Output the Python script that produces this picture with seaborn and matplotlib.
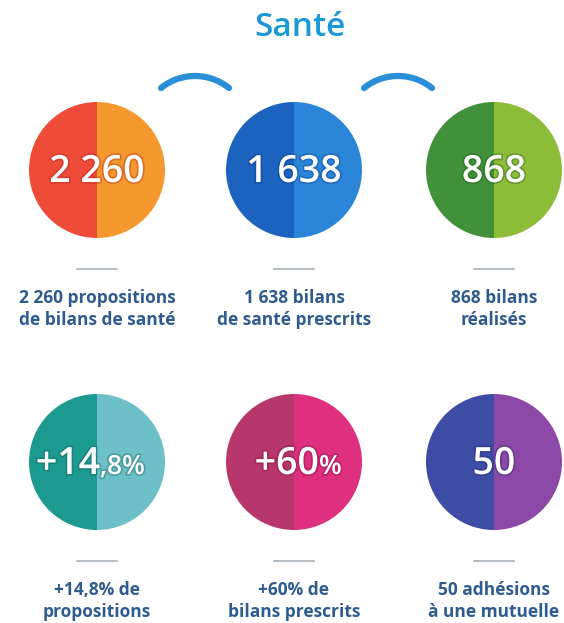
import numpy as np
import seaborn as sns
import matplotlib.pyplot as plt
import matplotlib.patheffects as pe
from matplotlib.patches import Wedge

# données
title = "Santé"
big_text = ["2 260", "1 638", "868", "+14", "+60", "50"]
small_text = ["", "", "", ",8%", "%", ""]
captions = ["2 260 propositions\nde bilans de santé",
            "1 638 bilans\nde santé prescrits",
            "868 bilans\nréalisés",
            "+14,8% de\npropositions",
            "+60% de\nbilans prescrits",
            "50 adhésions\nà une mutuelle"]
left_colors = ["#ee4c39", "#1c62bf", "#41903a", "#1c9a90", "#b8376b", "#3e4ca6"]
right_colors = ["#f5992f", "#2b86da", "#8dbd38", "#6ec0c8", "#df2f7f", "#8b48a6"]
dark_colors = ["#a8241b", "#0c3a80", "#1f5a1c", "#0d5e58", "#7a1240", "#22286a"]

sns.set_theme(style="white")
plt.rcParams['font.family'] = ['Open Sans', 'DejaVu Sans']

fig = plt.figure(figsize=(5.64, 6.23), dpi=100)
ax = fig.add_axes([0, 0, 1, 1])
ax.set_xlim(0, 564)
ax.set_ylim(623, 0)
ax.set_axis_off()

col_x = [97, 294, 494]
row_y = [170, 462]
radius = 68

ax.text(300, 28, title, ha='center', va='center', fontsize=24,
        fontweight='semibold', color='#1b98d6')

# arcs bleus entre les cercles
for cx in [195, 398]:
    t = np.linspace(np.radians(231), np.radians(309), 40)
    ax.plot(cx + 54 * np.cos(t), 130 + 54 * np.sin(t), color='#2a8ed8',
            lw=4.5, solid_capstyle='round')

for i in range(6):
    cx = col_x[i % 3]
    cy = row_y[i // 3]
    ax.add_patch(Wedge((cx, cy), radius, 90, 270, facecolor=left_colors[i],
                       edgecolor='none'))
    ax.add_patch(Wedge((cx, cy), radius, 270, 90, facecolor=right_colors[i],
                       edgecolor='none'))
    halo = [pe.withStroke(linewidth=2.5, foreground=dark_colors[i], alpha=0.35)]
    base = cy + 12
    if small_text[i] == "":
        ax.text(cx, base, big_text[i], ha='center', va='baseline', fontsize=27,
                fontweight='semibold', color='white', path_effects=halo)
    else:
        split = cx + (3 if i == 3 else 25)
        ax.text(split, base, big_text[i], ha='right', va='baseline', fontsize=27,
                fontweight='semibold', color='white', path_effects=halo)
        ax.text(split, base, small_text[i], ha='left', va='baseline', fontsize=19,
                fontweight='semibold', color='white', path_effects=halo)
    # petit trait gris
    ax.plot([cx - 20, cx + 20], [cy + 99, cy + 99], color='#8a949c', lw=1.5,
            alpha=0.6, solid_capstyle='round')
    ax.text(cx, cy + 139, captions[i], ha='center', va='center', fontsize=12.5,
            fontweight='bold', color='#2f5b8e', linespacing=1.25)

fig.savefig('out.png', dpi=100, facecolor='white')
